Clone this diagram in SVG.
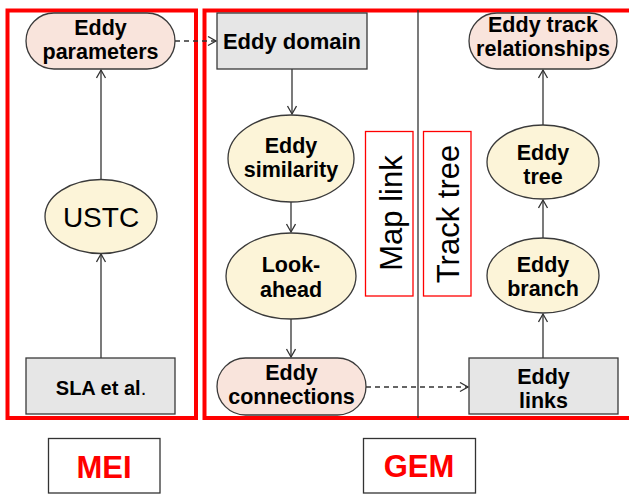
<svg xmlns="http://www.w3.org/2000/svg" width="629" height="494" viewBox="0 0 629 494">
<style>
.t{font-family:"Liberation Sans",Arial,sans-serif;font-weight:bold;font-size:21.5px;fill:#000;text-anchor:middle}
.pill{fill:#f9e4dc;stroke:#3a3a3a;stroke-width:1.3}
.ell{fill:#fcf4d8;stroke:#3a3a3a;stroke-width:1.3}
.box{fill:#e6e6e6;stroke:#3a3a3a;stroke-width:1.3}
.frame{fill:none;stroke:#ff0000;stroke-width:4}
.thin{fill:none;stroke:#ff0000;stroke-width:1.3}
.rot{font-family:"Liberation Sans",Arial,sans-serif;font-size:31px;fill:#000;text-anchor:middle}
.lab{font-family:"Liberation Sans",Arial,sans-serif;font-weight:bold;font-size:31px;fill:#ff0000;text-anchor:middle}
.c{fill:none;stroke:#333;stroke-width:1.3}
.d{stroke-dasharray:5,4}
</style>
<defs>
<marker id="a" markerUnits="userSpaceOnUse" markerWidth="12" markerHeight="12" refX="9" refY="5" orient="auto">
<path d="M1,0.5 L9,5 L1,9.5" fill="none" stroke="#333" stroke-width="1.3"/>
</marker>
</defs>

<g id="frames">
<rect class="frame" x="7.5" y="10.5" width="188.5" height="407.5"/>
<rect class="frame" x="204.5" y="10.5" width="440" height="407.5"/>
<line x1="418" y1="10" x2="418" y2="418" stroke="#333" stroke-width="1.3"/>
</g>

<g id="connectors">
<line class="c" x1="101" y1="180" x2="101" y2="70" marker-end="url(#a)"/>
<line class="c" x1="101" y1="358" x2="101" y2="254" marker-end="url(#a)"/>
<line class="c d" x1="175" y1="41" x2="216" y2="41" marker-end="url(#a)"/>
<line class="c" x1="292" y1="69" x2="292" y2="114" marker-end="url(#a)"/>
<line class="c" x1="291" y1="202" x2="291" y2="232" marker-end="url(#a)"/>
<line class="c" x1="291" y1="319" x2="291" y2="357" marker-end="url(#a)"/>
<line class="c d" x1="366" y1="387" x2="468" y2="387" marker-end="url(#a)"/>
<line class="c" x1="543" y1="358" x2="543" y2="314" marker-end="url(#a)"/>
<line class="c" x1="543" y1="238" x2="543" y2="200" marker-end="url(#a)"/>
<line class="c" x1="543" y1="125" x2="543" y2="70" marker-end="url(#a)"/>
</g>

<g id="eddy-parameters">
<rect class="pill" x="26" y="13" width="149" height="56" rx="28"/>
<text class="t" x="100.5" y="35">Eddy</text>
<text class="t" x="100.5" y="59">parameters</text>
</g>

<g id="ustc">
<ellipse class="ell" cx="101" cy="216.5" rx="56" ry="37"/>
<text x="101" y="226.5" style="font-family:'Liberation Sans',Arial,sans-serif;font-size:28px;text-anchor:middle">USTC</text>
</g>

<g id="sla">
<rect class="box" x="26" y="358" width="149" height="56"/>
<text class="t" x="101" y="395" style="font-size:20px">SLA et al<tspan style="font-weight:normal">.</tspan></text>
</g>

<g id="mei">
<rect x="48.5" y="438.5" width="111.5" height="54.5" fill="#fff" stroke="#333" stroke-width="1.3"/>
<text class="lab" x="104" y="477.5">MEI</text>
</g>

<g id="gem">
<rect x="363.5" y="438.5" width="112" height="54.5" fill="#fff" stroke="#333" stroke-width="1.3"/>
<text class="lab" x="419" y="477">GEM</text>
</g>

<g id="eddy-domain">
<rect class="box" x="217" y="13" width="150" height="56"/>
<text class="t" x="292" y="49" style="font-size:22px">Eddy domain</text>
</g>

<g id="eddy-similarity">
<ellipse class="ell" cx="291" cy="158.5" rx="63" ry="43.5"/>
<text class="t" x="291" y="153">Eddy</text>
<text class="t" x="291" y="177">similarity</text>
</g>

<g id="look-ahead">
<ellipse class="ell" cx="291" cy="276" rx="65" ry="43"/>
<text class="t" x="291" y="272">Look-</text>
<text class="t" x="291" y="297">ahead</text>
</g>

<g id="eddy-connections">
<rect class="pill" x="217" y="358" width="149" height="57" rx="28.5"/>
<text class="t" x="291.5" y="380">Eddy</text>
<text class="t" x="291.5" y="404">connections</text>
</g>

<g id="map-link">
<rect class="thin" x="365.5" y="131.5" width="47.5" height="164.5"/>
<text class="rot" transform="translate(402,213) rotate(-90)">Map link</text>
</g>

<g id="track-tree">
<rect class="thin" x="423.5" y="131.5" width="47.5" height="164.5"/>
<text class="rot" transform="translate(459,214) rotate(-90)">Track tree</text>
</g>

<g id="eddy-track-relationships">
<rect class="pill" x="469" y="13" width="148" height="56" rx="28"/>
<text class="t" x="543" y="32">Eddy track</text>
<text class="t" x="543" y="56">relationships</text>
</g>

<g id="eddy-tree">
<ellipse class="ell" cx="543" cy="162" rx="56" ry="37"/>
<text class="t" x="543" y="160">Eddy</text>
<text class="t" x="543" y="184">tree</text>
</g>

<g id="eddy-branch">
<ellipse class="ell" cx="543" cy="275.5" rx="56" ry="37.5"/>
<text class="t" x="543" y="272">Eddy</text>
<text class="t" x="543" y="296">branch</text>
</g>

<g id="eddy-links">
<rect class="box" x="469" y="358" width="149" height="56"/>
<text class="t" x="543.5" y="384">Eddy</text>
<text class="t" x="543.5" y="408">links</text>
</g>
</svg>
